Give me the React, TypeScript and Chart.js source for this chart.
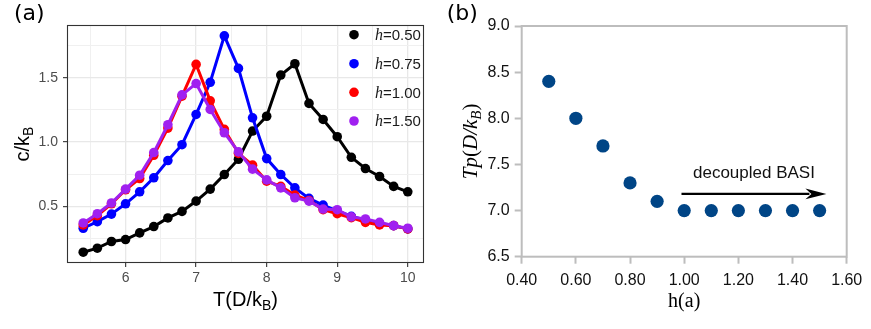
import React, { useEffect, useRef } from "react";
import { Chart, registerables } from "chart.js";

Chart.register(...registerables);

// ---------- Panel (a) data ----------
const temperatures = [5.4, 5.6, 5.8, 6.0, 6.2, 6.4, 6.6, 6.8, 7.0, 7.2, 7.4, 7.6, 7.8, 8.0, 8.2, 8.4, 8.6, 8.8, 9.0, 9.2, 9.4, 9.6, 9.8, 10.0];
const cH050 = [0.144, 0.175, 0.227, 0.242, 0.294, 0.343, 0.41, 0.461, 0.541, 0.634, 0.747, 0.866, 1.085, 1.2, 1.52, 1.608, 1.3, 1.175, 1.041, 0.881, 0.794, 0.732, 0.655, 0.613];
const cH075 = [0.33, 0.381, 0.44, 0.52, 0.613, 0.722, 0.856, 0.979, 1.214, 1.464, 1.825, 1.572, 1.188, 0.871, 0.747, 0.644, 0.562, 0.51, 0.464, 0.423, 0.392, 0.366, 0.35, 0.325];
const cH100 = [0.356, 0.428, 0.52, 0.629, 0.716, 0.897, 1.108, 1.356, 1.603, 1.32, 1.098, 0.912, 0.82, 0.696, 0.655, 0.588, 0.546, 0.474, 0.443, 0.412, 0.376, 0.356, 0.35, 0.325];
const cH150 = [0.371, 0.443, 0.526, 0.634, 0.742, 0.918, 1.134, 1.366, 1.454, 1.253, 1.072, 0.923, 0.789, 0.706, 0.644, 0.567, 0.541, 0.479, 0.474, 0.418, 0.402, 0.376, 0.35, 0.33];
const seriesLabels = ["0.50", "0.75", "1.00", "1.50"];
const seriesColors = ["#000000", "#0000FF", "#FF0000", "#A020F0"];
const leftXTicks = [6, 7, 8, 9, 10];
const leftXMinorTicks = [5.5, 6.5, 7.5, 8.5, 9.5];
const leftYTicks = [0.5, 1.0, 1.5];
const leftYMinorTicks = [0.25, 0.75, 1.25, 1.75];

// ---------- Panel (b) data ----------
const hValues = [0.5, 0.6, 0.7, 0.8, 0.9, 1.0, 1.1, 1.2, 1.3, 1.4, 1.5];
const tpValues = [8.4, 8.0, 7.7, 7.3, 7.1, 7.0, 7.0, 7.0, 7.0, 7.0, 7.0];
const rightXTicks = [0.4, 0.6, 0.8, 1.0, 1.2, 1.4, 1.6];
const rightYTicks = [6.5, 7.0, 7.5, 8.0, 8.5, 9.0];
const arrowFrom = { x: 0.99, y: 7.18 };
const arrowTo = { x: 1.525, y: 7.18 };
const arrowText = "decoupled BASI";

type Run = { text: string; font: string; dy?: number };

function drawRuns(ctx: CanvasRenderingContext2D, runs: Run[], x: number, y: number, align: "left" | "center") {
  let total = 0;
  const widths = runs.map((r) => {
    ctx.font = r.font;
    const w = ctx.measureText(r.text).width;
    total += w;
    return w;
  });
  let cx = align === "center" ? x - total / 2 : x;
  ctx.textAlign = "left";
  ctx.textBaseline = "alphabetic";
  runs.forEach((r, i) => {
    ctx.font = r.font;
    ctx.fillText(r.text, cx, y + (r.dy || 0));
    cx += widths[i];
  });
}

const SANS = '"Liberation Sans", Arial, sans-serif';
const SERIF = '"Liberation Serif", "Times New Roman", serif';

function LeftChart() {
  const ref = useRef<HTMLCanvasElement | null>(null);
  useEffect(() => {
    if (!ref.current) return;
    const datasets = [cH050, cH075, cH100, cH150].map((arr, k) => ({
      label: "h=" + seriesLabels[k],
      data: temperatures.map((t, i) => ({ x: t, y: arr[i] })),
      borderColor: seriesColors[k],
      backgroundColor: seriesColors[k],
      pointBackgroundColor: seriesColors[k],
      borderWidth: 3,
      pointRadius: 4.8,
      pointBorderWidth: 0,
      pointHoverRadius: 4.8,
      tension: 0,
      order: 3 - k,
    }));
    const isMajorX = (v: number) => leftXTicks.includes(v);
    const isMajorY = (v: number) => leftYTicks.some((t) => Math.abs(t - v) < 1e-9);
    const decor = {
      id: "decorA",
      afterDraw(chart: any) {
        const ctx: CanvasRenderingContext2D = chart.ctx;
        const a = chart.chartArea;
        ctx.save();
        ctx.strokeStyle = "#333333";
        ctx.lineWidth = 1.1;
        ctx.strokeRect(Math.round(a.left) + 0.5, Math.round(a.top) + 0.5, Math.round(a.right - a.left) - 1, Math.round(a.bottom - a.top) - 1);
        // panel tag
        ctx.fillStyle = "#000";
        ctx.font = '22px "DejaVu Sans", sans-serif';
        ctx.textAlign = "left";
        ctx.textBaseline = "alphabetic";
        ctx.fillText("(a)", 14, 20);
        // axis titles
        ctx.fillStyle = "#000";
        drawRuns(ctx, [
          { text: "T(D/k", font: `20px ${SANS}` },
          { text: "B", font: `14px ${SANS}`, dy: 4 },
          { text: ")", font: `20px ${SANS}` },
        ], (a.left + a.right) / 2, 306, "center");
        ctx.save();
        ctx.translate(29, (a.top + a.bottom) / 2);
        ctx.rotate(-Math.PI / 2);
        drawRuns(ctx, [
          { text: "c/k", font: `20px ${SANS}` },
          { text: "B", font: `14px ${SANS}`, dy: 4 },
        ], 0, 0, "center");
        ctx.restore();
        // legend
        const ys = [34.7, 63.7, 92.3, 121];
        seriesLabels.forEach((lab, k) => {
          ctx.beginPath();
          ctx.fillStyle = seriesColors[k];
          ctx.arc(354, ys[k], 4.8, 0, Math.PI * 2);
          ctx.fill();
          ctx.fillStyle = "#1a1a1a";
          drawRuns(ctx, [
            { text: "h", font: `italic 16px ${SERIF}` },
            { text: "=" + lab, font: `15px ${SANS}` },
          ], 375, ys[k] + 5.3, "left");
        });
        ctx.restore();
      },
    };
    const chart = new Chart(ref.current, {
      type: "line",
      data: { datasets },
      options: {
        animation: false,
        responsive: false,
        devicePixelRatio: 1,
        layout: { padding: { top: 25, right: 11, left: 0, bottom: 0 } },
        plugins: { legend: { display: false }, tooltip: { enabled: false } },
        scales: {
          x: {
            type: "linear",
            min: 5.17,
            max: 10.23,
            afterBuildTicks: (s: any) => {
              s.ticks = [...leftXMinorTicks, ...leftXTicks].sort((p, q) => p - q).map((v) => ({ value: v }));
            },
            afterFit: (s: any) => { s.height = 66; },
            border: { display: false },
            grid: {
              color: (c: any) => (c.tick && isMajorX(c.tick.value) ? "#E8E8E8" : "#F0F0F0"),
              lineWidth: (c: any) => (c.tick && isMajorX(c.tick.value) ? 1.3 : 1),
              tickColor: (c: any) => (c.tick && isMajorX(c.tick.value) ? "#333333" : "rgba(0,0,0,0)"),
              tickWidth: 1.1,
              tickLength: 4,
            },
            ticks: {
              autoSkip: false,
              maxRotation: 0,
              padding: 3,
              color: "#4D4D4D",
              font: { family: SANS, size: 14 },
              callback: (v: any) => (isMajorX(Number(v)) ? String(v) : ""),
            },
          },
          y: {
            type: "linear",
            min: 0.06,
            max: 1.909,
            afterBuildTicks: (s: any) => {
              s.ticks = [...leftYMinorTicks, ...leftYTicks].sort((p, q) => p - q).map((v) => ({ value: v }));
            },
            afterFit: (s: any) => { s.width = 67; },
            border: { display: false },
            grid: {
              color: (c: any) => (c.tick && isMajorY(c.tick.value) ? "#E8E8E8" : "#F0F0F0"),
              lineWidth: (c: any) => (c.tick && isMajorY(c.tick.value) ? 1.3 : 1),
              tickColor: (c: any) => (c.tick && isMajorY(c.tick.value) ? "#333333" : "rgba(0,0,0,0)"),
              tickWidth: 1.1,
              tickLength: 4,
            },
            ticks: {
              autoSkip: false,
              padding: 5,
              color: "#4D4D4D",
              font: { family: SANS, size: 14 },
              callback: (v: any) => (isMajorY(Number(v)) ? Number(v).toFixed(1) : ""),
            },
          },
        },
      },
      plugins: [decor],
    } as any);
    return () => chart.destroy();
  }, []);
  return <canvas ref={ref} width={435} height={329} style={{ position: "absolute", left: 0, top: 0 }} />;
}

function RightChart() {
  const ref = useRef<HTMLCanvasElement | null>(null);
  useEffect(() => {
    if (!ref.current) return;
    const decor = {
      id: "decorB",
      afterDraw(chart: any) {
        const ctx: CanvasRenderingContext2D = chart.ctx;
        const a = chart.chartArea;
        const xs = chart.scales.x;
        const ysc = chart.scales.y;
        ctx.save();
        ctx.strokeStyle = "#BDBDBD";
        ctx.lineWidth = 2;
        ctx.strokeRect(a.left, a.top, a.right - a.left, a.bottom - a.top);
        ctx.fillStyle = "#000";
        ctx.font = '22px "DejaVu Sans", sans-serif';
        ctx.textAlign = "left";
        ctx.textBaseline = "alphabetic";
        ctx.fillText("(b)", 11.7, 20);
        // x title
        drawRuns(ctx, [{ text: "h(a)", font: `20px ${SERIF}` }], (a.left + a.right) / 2, 307, "center");
        // y title
        ctx.save();
        ctx.translate(42, (a.top + a.bottom) / 2);
        ctx.rotate(-Math.PI / 2);
        drawRuns(ctx, [
          { text: "Tp", font: `italic 21px ${SERIF}` },
          { text: "(", font: `21px ${SERIF}` },
          { text: "D/k", font: `italic 21px ${SERIF}` },
          { text: "B", font: `italic 15px ${SERIF}`, dy: 4 },
          { text: ")", font: `21px ${SERIF}` },
        ], 0, 0, "center");
        ctx.restore();
        // arrow annotation
        const x0 = xs.getPixelForValue(arrowFrom.x);
        const x1 = xs.getPixelForValue(arrowTo.x);
        const y0 = ysc.getPixelForValue(arrowFrom.y);
        const head = 21;
        const half = 5.4;
        ctx.strokeStyle = "#000";
        ctx.lineWidth = 2.2;
        ctx.beginPath();
        ctx.moveTo(x0, y0);
        ctx.lineTo(x1 - head + 4, y0);
        ctx.stroke();
        ctx.fillStyle = "#000";
        ctx.beginPath();
        ctx.moveTo(x1, y0);
        ctx.lineTo(x1 - head, y0 - half);
        ctx.lineTo(x1 - head + 6, y0);
        ctx.lineTo(x1 - head, y0 + half);
        ctx.closePath();
        ctx.fill();
        ctx.fillStyle = "#111";
        drawRuns(ctx, [{ text: arrowText, font: `17px ${SANS}` }], (x0 + x1) / 2, y0 - 15.6, "center");
        ctx.restore();
      },
    };
    const chart = new Chart(ref.current, {
      type: "scatter",
      data: {
        datasets: [
          {
            label: "Tp",
            data: hValues.map((h, i) => ({ x: h, y: tpValues[i] })),
            backgroundColor: "#004586",
            borderColor: "#004586",
            pointRadius: 6.6,
            pointHoverRadius: 6.6,
            pointBorderWidth: 0,
          },
        ],
      },
      options: {
        animation: false,
        responsive: false,
        devicePixelRatio: 1,
        layout: { padding: { top: 26, right: 24.3, left: 0, bottom: 0 } },
        plugins: { legend: { display: false }, tooltip: { enabled: false } },
        scales: {
          x: {
            type: "linear",
            min: 0.4,
            max: 1.6,
            afterBuildTicks: (s: any) => { s.ticks = rightXTicks.map((v) => ({ value: v })); },
            afterFit: (s: any) => { s.height = 72.3; },
            border: { display: false },
            grid: { drawOnChartArea: false, tickColor: "#BDBDBD", tickWidth: 2, tickLength: 7 },
            ticks: {
              autoSkip: false,
              maxRotation: 0,
              padding: 7,
              color: "#111",
              font: { family: SANS, size: 16 },
              callback: (v: any) => Number(v).toFixed(2),
            },
          },
          y: {
            type: "linear",
            min: 6.5,
            max: 9.0,
            afterBuildTicks: (s: any) => { s.ticks = rightYTicks.map((v) => ({ value: v })); },
            afterFit: (s: any) => { s.width = 86.7; },
            border: { display: false },
            grid: { drawOnChartArea: false, tickColor: "#BDBDBD", tickWidth: 2, tickLength: 7 },
            ticks: {
              autoSkip: false,
              padding: 5,
              color: "#111",
              font: { family: SANS, size: 16 },
              callback: (v: any) => Number(v).toFixed(1),
            },
          },
        },
      },
      plugins: [decor],
    } as any);
    return () => chart.destroy();
  }, []);
  return <canvas ref={ref} width={436} height={329} style={{ position: "absolute", left: 435, top: 0 }} />;
}

export default function App() {
  return (
    <div style={{ position: "fixed", left: 0, top: 0, width: 871, height: 329, background: "#ffffff", overflow: "hidden" }}>
      <LeftChart />
      <RightChart />
    </div>
  );
}
